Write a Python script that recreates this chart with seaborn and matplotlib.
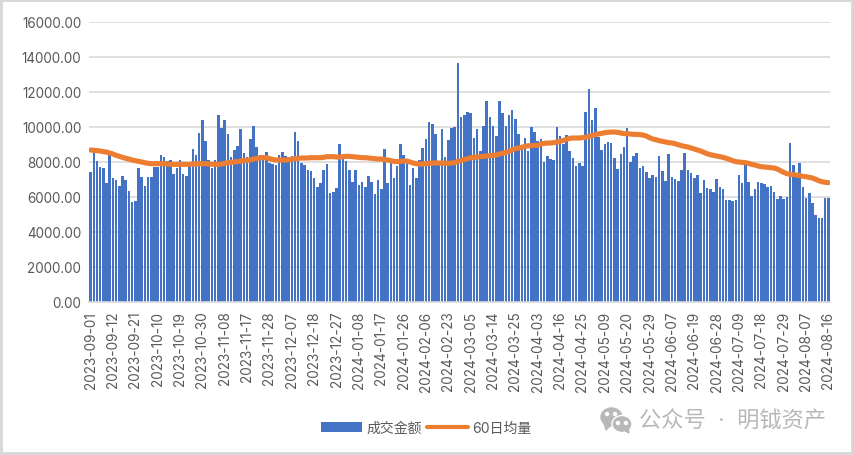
import matplotlib
matplotlib.use('Agg')
import matplotlib.pyplot as plt
from matplotlib.patches import Ellipse, Polygon
import seaborn as sns
import pandas as pd
import numpy as np

tick_labels = ['2023-09-01', '2023-09-12', '2023-09-21', '2023-10-10', '2023-10-19', '2023-10-30',
               '2023-11-08', '2023-11-17', '2023-11-28', '2023-12-07', '2023-12-18', '2023-12-27',
               '2024-01-08', '2024-01-17', '2024-01-26', '2024-02-06', '2024-02-23', '2024-03-05',
               '2024-03-14', '2024-03-25', '2024-04-03', '2024-04-16', '2024-04-25', '2024-05-09',
               '2024-05-20', '2024-05-29', '2024-06-07', '2024-06-19', '2024-06-28', '2024-07-09',
               '2024-07-18', '2024-07-29', '2024-08-07', '2024-08-16']

y_ticks = [0, 2000, 4000, 6000, 8000, 10000, 12000, 14000, 16000]

amount = [7391, 8800, 8020, 7677, 7620, 6763, 8363, 7050, 6934, 6590, 7163, 6934, 6305, 5677, 5734, 7620,
          7105, 6590, 7105, 7105, 7677, 7677, 8363, 8250, 8020, 8077, 7277, 7620, 8077, 7277, 7163, 7734,
          8706, 8363, 9620, 10363, 9163, 8077, 7620, 8077, 10650, 9906, 10363, 9563, 8250, 8650, 8877, 9849,
          8477, 8250, 9277, 10020, 8820, 8363, 8363, 8534, 7906, 7849, 7791, 8363, 8534, 8306, 8250, 8306,
          9677, 9163, 7906, 7791, 7506, 7449, 7050, 6534, 6763, 7506, 7849, 6191, 6248, 6477, 8991,
          8134, 8020, 7506, 6820, 7506, 6648, 6820, 6534, 7163, 6820, 6134, 6934, 6420, 8706, 6763, 7906,
          7050, 7734, 8991, 8363, 7906, 6648, 7620, 7050, 8077, 8763, 9277, 10249, 10135, 9563, 7849, 9849,
          8250, 9220, 9906, 9963, 13620, 10535, 10650, 10820, 10763, 9334, 9849, 8592, 10020, 11449, 10535,
          10020, 9449, 11449, 10763, 10020, 10650, 10935, 10420, 9563, 8706, 9334, 8592, 9963, 9677, 9163,
          9277, 7963, 8306, 8134, 8077, 9963, 9449, 8991, 9506, 8592, 8192, 7734, 7906, 7734, 10820, 12135,
          10363, 11049, 9392, 8650, 8991, 9106, 9049, 8192, 7563, 8420, 8820, 9906, 7963, 8306, 8477, 7620,
          7734, 7391, 7050, 7220, 7105, 8306, 7449, 6877, 8420, 7105, 6991, 6877, 7506, 8477, 7506, 7334,
          7050, 7220, 6191, 6934, 6477, 6420, 6248, 6991, 6534, 6420, 5791, 5791, 5734, 5791, 7220, 6763,
          7849, 6820, 6020, 6420, 6820, 6763, 6706, 6534, 6591, 6248, 5848, 6020, 5848, 5963, 9049, 7791,
          7105, 7906, 6534, 5906, 6191, 5620, 4934, 4763, 4763, 5906, 5906]

ma60 = [8668, 8649, 8630, 8611, 8573, 8553, 8496, 8439, 8363, 8306, 8249, 8192, 8153, 8096, 8058, 8020,
        7982, 7944, 7906, 7887, 7887, 7887, 7887, 7887, 7868, 7849, 7849, 7849, 7849, 7849, 7849, 7849,
        7868, 7868, 7887, 7887, 7887, 7868, 7849, 7849, 7849, 7868, 7906, 7944, 7963, 7982, 8001, 8039,
        8058, 8077, 8096, 8153, 8192, 8211, 8230, 8230, 8172, 8134, 8096, 8096, 8096, 8096, 8115, 8134,
        8172, 8192, 8211, 8211, 8211, 8230, 8230, 8230, 8230, 8249, 8287, 8287, 8287, 8268, 8268,
        8287, 8306, 8306, 8287, 8268, 8249, 8230, 8230, 8211, 8192, 8172, 8153, 8153, 8115, 8096, 8058,
        8020, 8001, 8020, 8039, 8039, 7982, 7925, 7887, 7868, 7868, 7887, 7906, 7925, 7925, 7925, 7925,
        7906, 7906, 7925, 7944, 8020, 8077, 8115, 8172, 8230, 8249, 8268, 8287, 8306, 8325, 8344, 8363,
        8382, 8439, 8477, 8534, 8592, 8668, 8744, 8782, 8820, 8877, 8915, 8915, 8934, 8934, 9011, 9049,
        9068, 9068, 9087, 9125, 9163, 9220, 9277, 9335, 9354, 9354, 9354, 9373, 9392, 9449,
        9487, 9544, 9582, 9620, 9658, 9677, 9696, 9696, 9677, 9639, 9601, 9601, 9582, 9563, 9563, 9544,
        9525, 9468, 9373, 9296, 9258, 9201, 9163, 9125, 9087, 9068, 9030, 8973, 8915, 8877, 8839, 8782,
        8725, 8668, 8611, 8534, 8458, 8401, 8363, 8325, 8287, 8249, 8192, 8134, 8058, 8001, 7982, 7963,
        7944, 7906, 7849, 7811, 7754, 7715, 7696, 7677, 7658, 7639, 7582, 7487, 7391, 7315, 7277, 7258,
        7239, 7201, 7163, 7144, 7106, 7068, 6991, 6915, 6858, 6820, 6801]

df = pd.DataFrame({'day': np.arange(len(amount)), 'amount': amount, 'ma60': ma60})

sns.set_theme(style='white')
plt.rcParams['font.family'] = ['Inter', 'Noto Sans CJK SC', 'DejaVu Sans']

W, H = 854, 456
fig = plt.figure(figsize=(W / 100, H / 100), dpi=100, edgecolor='#d9d9d9', linewidth=3)
ax = fig.add_axes([89 / W, 1 - 302.7 / H, 741 / W, 280 / H])

sns.barplot(data=df, x='day', y='amount', color='#4472C4', saturation=1, width=0.8, linewidth=0,
            label='成交金额', ax=ax, zorder=2)
sns.lineplot(data=df, x='day', y='ma60', color='#ED7D31', linewidth=3.7, label='60日均量',
             solid_capstyle='round', ax=ax, zorder=3)

ax.set_xlim(-0.5, len(amount) - 0.5)
ax.set_ylim(0, 16000)
ax.set_xticks(range(0, len(amount), 7))
ax.set_xticklabels(tick_labels, rotation=90, fontsize=9.8, color='#595959')
ax.set_yticks(y_ticks)
ax.set_yticklabels(['%.2f' % v for v in y_ticks], fontsize=9.7, color='#595959')
ax.tick_params(axis='x', length=0, pad=6.5)
ax.tick_params(axis='y', length=0, pad=5.5)
ax.set_xlabel('')
ax.set_ylabel('')
ax.grid(axis='y', color='#d9d9d9', linewidth=1.2, zorder=0)
ax.set_axisbelow(True)
sns.despine(ax=ax, left=True, right=True, top=True)
ax.spines['bottom'].set_color('#d9d9d9')
ax.spines['bottom'].set_linewidth(1.2)

# bars first in the legend
handles, labels = ax.get_legend_handles_labels()
order = [labels.index('成交金额'), labels.index('60日均量')]
leg = ax.legend([handles[i] for i in order], [labels[i] for i in order],
                loc='center', bbox_to_anchor=(426 / W, 1 - 429 / H), bbox_transform=fig.transFigure,
                ncol=2, frameon=False, fontsize=10, labelcolor='#595959', handlelength=2.95,
                handletextpad=0.3, columnspacing=0.35, borderpad=0)
leg.get_lines()[0].set_linewidth(3)

# watermark
mark = '#b8b8b8'
fig.text(639 / W, 1 - 421 / H, '公众号  ·  明钺资产', fontsize=16, color=mark, ha='left', va='center')
fig.add_artist(Ellipse((611.5 / W, 1 - 418 / H), 21 / W, 18 / H, color=mark, transform=fig.transFigure))
fig.add_artist(Polygon([[604 / W, 1 - 424 / H], [606 / W, 1 - 431 / H], [611 / W, 1 - 426 / H]],
                       color=mark, transform=fig.transFigure))
fig.add_artist(Ellipse((622 / W, 1 - 425 / H), 20 / W, 17 / H, facecolor=mark, edgecolor='white',
                       linewidth=1, transform=fig.transFigure))
fig.add_artist(Polygon([[624 / W, 1 - 431 / H], [629 / W, 1 - 434 / H], [628 / W, 1 - 428 / H]],
                       color=mark, transform=fig.transFigure))
for ex, ey in [(607, 415), (615, 415), (618, 424), (626, 424)]:
    fig.add_artist(Ellipse((ex / W, 1 - ey / H), 3 / W, 3 / H, color='white', transform=fig.transFigure))

fig.savefig('out.png', dpi=100)
